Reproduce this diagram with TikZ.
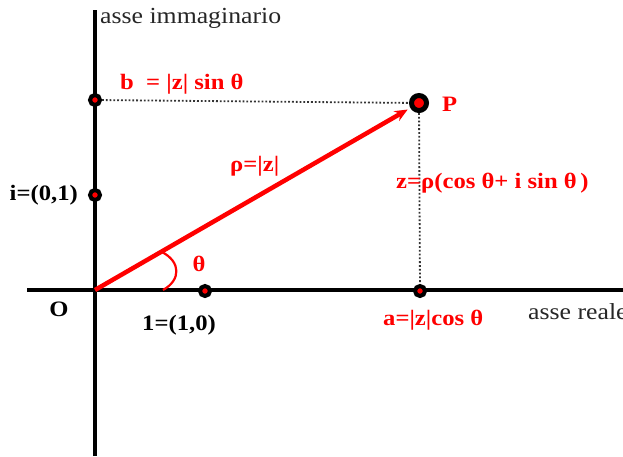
\documentclass[tikz,border=0pt]{standalone}
\usepackage{fontspec}
\setmainfont[FakeStretch=1.12]{Liberation Serif}
\usepackage{tikz}
\usetikzlibrary{arrows.meta,positioning,calc}

\begin{document}
\begin{tikzpicture}[x=1pt, y=-1pt,
  axis/.style={line width=3.8pt, black},
  dot/.style={circle, draw=black, line width=4pt, fill=red, inner sep=0pt, minimum size=10pt},
  bigdot/.style={dot, line width=5pt, minimum size=15pt},
  guide/.style={dotted, line width=1.8pt, black!80},
  vec/.style={line width=4.5pt, red, -{Stealth[length=13pt, width=11pt]}, shorten >=3pt},
  lbl/.style={font=\bfseries\fontsize{22}{22}\selectfont, inner sep=0pt},
  rlbl/.style={lbl, text=red}]
  \useasboundingbox (0,0) rectangle (623,456);
  % axes
  \coordinate (O) at (95,290);
  \coordinate (xl) at (27,290);
  \coordinate (xr) at (623,290);
  \coordinate (yt) at (95,10);
  \coordinate (yb) at (95,456);
  \draw[axis] (xl) -- (xr);
  \draw[axis] (yb) -- (yt);
  % points on the axes and P
  \node[dot] (one) at (205,291) {};
  \node[dot] (a)   at (420,291) {};
  \node[dot] (b)   at (95,100) {};
  \node[dot] (i)   at (95,195) {};
  \node[bigdot] (P) at (419,103) {};
  % projections
  \draw[guide] (b) -- (P);
  \draw[guide] (P) -- (a);
  % vector and angle
  \draw[vec] (O) -- (P);
  \draw[red, line width=2.2pt] (163,290) .. controls (181,280) and (181,262) .. (162,252);
  % axis names
  \node[font=\fontsize{23}{23}\selectfont, anchor=west, inner sep=0pt, text=black!85] (im) at (100,18) {asse immaginario};
  \node[font=\fontsize{23}{23}\selectfont, anchor=west, inner sep=0pt, text=black!85] (re) at (528,312) {asse reale};
  % labels
  \node[rlbl, anchor=west] (lb) at (120,84) {b\ \ = |z| sin θ};
  \node[rlbl, anchor=west] (lrho) at (230,166) {ρ=|z|};
  \node[lbl, anchor=east] (li) at (78,195) {i=(0,1)};
  \node[rlbl, anchor=west] (lP) at (442,104) {P};
  \node[rlbl, anchor=west] (lz) at (396,183) {z=ρ(cos θ+ i sin θ\,)};
  \node[rlbl] (lth) at (199,264) {θ};
  \node[lbl] (lO) at (59,309) {O};
  \node[lbl, anchor=west] (l1) at (142,325) {1=(1,0)};
  \node[rlbl, anchor=west] (la) at (383,320) {a=|z|cos θ};
\end{tikzpicture}
\end{document}
